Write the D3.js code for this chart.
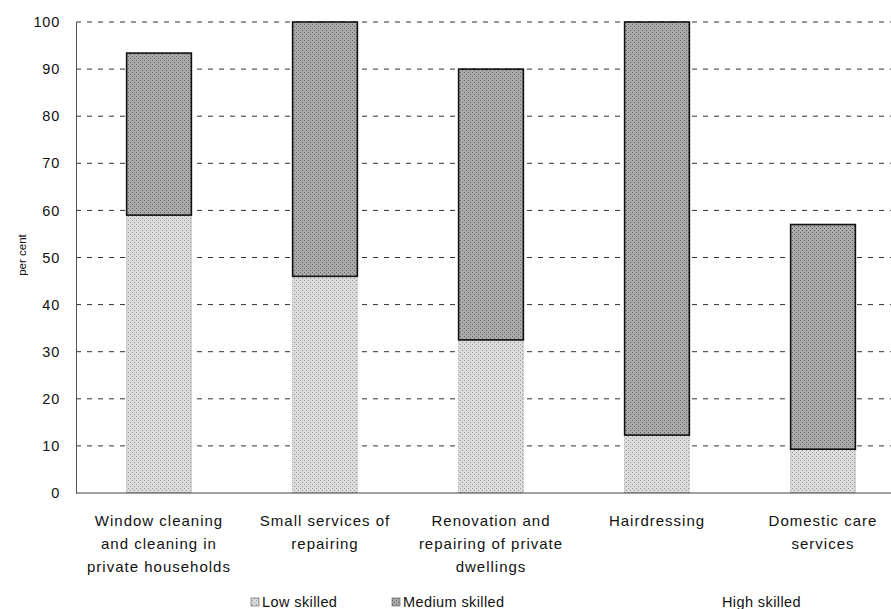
<!DOCTYPE html>
<html><head><meta charset="utf-8">
<script src="https://cdn.jsdelivr.net/npm/d3@7"></script>
<style>body{margin:0;background:#fff;}svg{display:block;font-family:"Liberation Sans",Arial,sans-serif;}</style>
</head><body>
<script>
const categories = [
  ["Window cleaning","and cleaning in","private households"],
  ["Small services of","repairing"],
  ["Renovation and","repairing of private","dwellings"],
  ["Hairdressing"],
  ["Domestic care","services"]
];
const lowSkilled = [59, 46, 32.5, 12.3, 9.3];
const mediumSkilled = [34.4, 54, 57.5, 87.7, 47.7];
const highSkilled = [0, 0, 0, 0, 0];
const seriesNames = ["Low skilled", "Medium skilled", "High skilled"];
const yTicks = [0,10,20,30,40,50,60,70,80,90,100];

const W = 891, H = 609;
const svg = d3.select("body").append("svg").attr("width", W).attr("height", H);

const x = d3.scaleBand().domain(d3.range(categories.length)).range([76, 906]).paddingInner(0.61).paddingOuter(0.305);
const y = d3.scaleLinear().domain([0, 100]).range([493, 22]);

// pattern textures
const defs = svg.append("defs");
function pattern(id, base, dot) {
  const p = defs.append("pattern").attr("id", id).attr("width", 4).attr("height", 4).attr("patternUnits", "userSpaceOnUse");
  p.append("rect").attr("width", 4).attr("height", 4).attr("fill", base);
  p.append("rect").attr("x", 0).attr("y", 0).attr("width", 1).attr("height", 1).attr("fill", dot);
  p.append("rect").attr("x", 2).attr("y", 2).attr("width", 1).attr("height", 1).attr("fill", dot);
}
pattern("lowPat", "#dcdcdc", "#9a9a9a");
pattern("medPat", "#a9a9a9", "#6a6a6a");

// gridlines
svg.append("g").selectAll("line").data(yTicks.filter(d => d > 0)).join("line")
  .attr("x1", 76).attr("x2", W).attr("y1", d => y(d)).attr("y2", d => y(d))
  .attr("stroke", "#333").attr("stroke-width", 1).attr("stroke-dasharray", "5,6");

// y axis
const yAxis = d3.axisLeft(y).tickValues(yTicks).tickSize(0).tickPadding(16);
const yg = svg.append("g").attr("transform", "translate(76,0)").call(yAxis);
yg.select(".domain").attr("stroke", "#555").attr("stroke-width", 1);
yg.selectAll("text").attr("font-size", 14.5).attr("letter-spacing", 0.8).attr("fill", "#111")
  .attr("font-family", "Liberation Sans, Arial, sans-serif");

svg.append("text").attr("transform", "translate(26,255) rotate(-90)")
  .attr("text-anchor", "middle").attr("font-size", 11.5).attr("fill", "#111").text("per cent");

// bars
const stacks = categories.map((c, i) => ({i, low: lowSkilled[i], med: mediumSkilled[i], high: highSkilled[i]}));
const g = svg.append("g");
g.selectAll("rect.low").data(stacks).join("rect").attr("class", "low")
  .attr("x", d => x(d.i)).attr("width", x.bandwidth())
  .attr("y", d => y(d.low)).attr("height", d => y(0) - y(d.low))
  .attr("fill", "url(#lowPat)").attr("stroke", "#777").attr("stroke-width", 0.6).attr("stroke-dasharray", "1,1");
g.selectAll("rect.med").data(stacks).join("rect").attr("class", "med")
  .attr("x", d => x(d.i)).attr("width", x.bandwidth())
  .attr("y", d => y(d.low + d.med)).attr("height", d => y(d.low) - y(d.low + d.med))
  .attr("fill", "url(#medPat)").attr("stroke", "#111").attr("stroke-width", 1.6);

// baseline
svg.append("line").attr("x1", 76).attr("x2", W).attr("y1", y(0)).attr("y2", y(0)).attr("stroke", "#444").attr("stroke-width", 1.2);

// x labels
const xl = svg.append("g");
categories.forEach((lines, i) => {
  const t = xl.append("text").attr("text-anchor", "middle").attr("font-size", 15).attr("letter-spacing", 1.0).attr("fill", "#111");
  lines.forEach((ln, j) => t.append("tspan").attr("x", x(i) + x.bandwidth()/2).attr("y", 526 + j*23).text(ln));
});

// legend
const legX = [262, 403, 722];
const legFill = ["url(#lowPat)", "url(#medPat)", "none"];
const lg = svg.append("g");
seriesNames.forEach((s, i) => {
  if (i < 2) lg.append("rect").attr("x", legX[i] - 11).attr("y", 598).attr("width", 8).attr("height", 8)
      .attr("fill", legFill[i]).attr("stroke", "#555").attr("stroke-width", 0.6);
  lg.append("text").attr("x", legX[i]).attr("y", 607).attr("font-size", 14.5).attr("letter-spacing", 0.4).attr("fill", "#111").text(s);
});
</script>
</body></html>
